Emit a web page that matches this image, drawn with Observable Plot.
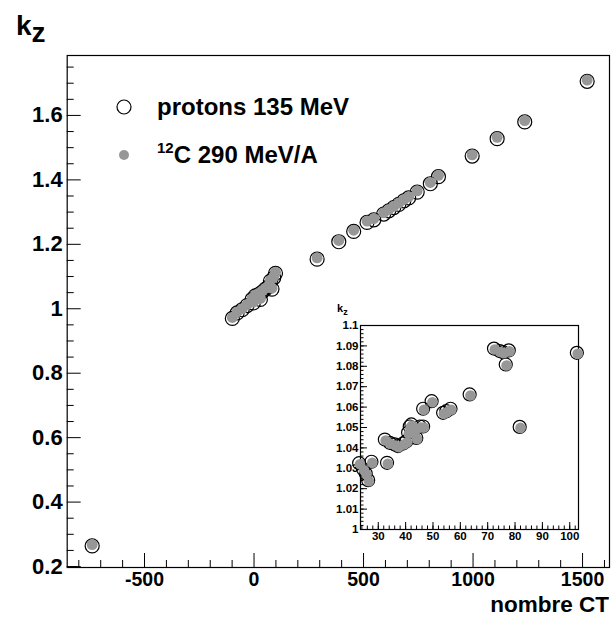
<!DOCTYPE html>
<html><head><meta charset="utf-8">
<script src="https://cdn.jsdelivr.net/npm/d3@7"></script>
<script src="https://cdn.jsdelivr.net/npm/@observablehq/plot@0.6"></script>
<style>
html,body{margin:0;padding:0;background:#fff;}
#wrap{position:relative;width:611px;height:621px;overflow:hidden;}
#wrap svg{position:absolute;overflow:visible;}
</style></head><body><div id="wrap"></div>
<script>
// ---- main plot data (CT number, k_z) ----
const protonCT = [-739, -99, -77, -54, -32, -9, -3, 6, 22, 29, 37, 52, 67, 75, 82, 90, 98, 288, 387, 455, 516, 547, 592, 615, 638, 661, 684, 706, 745, 805, 842, 996, 1110, 1236, 1521];
const protonKz = [0.264, 0.970, 0.987, 0.997, 1.010, 1.029, 1.018, 1.040, 1.045, 1.029, 1.052, 1.061, 1.069, 1.086, 1.061, 1.096, 1.110, 1.154, 1.208, 1.240, 1.268, 1.276, 1.294, 1.304, 1.314, 1.324, 1.335, 1.344, 1.362, 1.388, 1.410, 1.474, 1.528, 1.580, 1.706];
const carbonCT = [-739, -99, -77, -54, -32, -9, -3, 6, 22, 29, 37, 52, 67, 75, 82, 90, 98, 288, 387, 455, 516, 547, 592, 615, 638, 661, 684, 706, 745, 805, 842, 996, 1110, 1236, 1521];
const carbonKz = [0.268, 0.973, 0.990, 1.000, 1.013, 1.032, 1.021, 1.043, 1.048, 1.032, 1.055, 1.064, 1.072, 1.089, 1.064, 1.099, 1.113, 1.158, 1.212, 1.244, 1.272, 1.280, 1.298, 1.308, 1.318, 1.328, 1.339, 1.348, 1.366, 1.392, 1.414, 1.478, 1.532, 1.584, 1.710];

// ---- inset data ----
const insetProtonCT = [23.0, 24.5, 25.4, 26.3, 27.5, 33.2, 32.4, 34.2, 36.0, 37.2, 39.1, 40.3, 40.9, 41.5, 42.1, 43.3, 43.9, 45.2, 46.4, 46.4, 49.5, 53.7, 54.9, 56.4, 63.4, 72.3, 74.4, 75.6, 77.7, 76.6, 81.7, 102.6];
const insetProtonKz = [1.0325, 1.0295, 1.0275, 1.0242, 1.0332, 1.0327, 1.0441, 1.0425, 1.0417, 1.0409, 1.0422, 1.0433, 1.0475, 1.0505, 1.0515, 1.0490, 1.0449, 1.0505, 1.0505, 1.0592, 1.0629, 1.0572, 1.0580, 1.0592, 1.0662, 1.0887, 1.0875, 1.0869, 1.0878, 1.0809, 1.0503, 1.0866];
const insetCarbonCT = [23.3, 24.8, 25.7, 26.6, 27.8, 33.5, 32.7, 34.5, 36.3, 37.5, 39.4, 40.6, 41.2, 41.8, 42.4, 43.6, 44.2, 45.5, 46.7, 46.7, 49.8, 54.0, 55.2, 56.7, 63.7, 72.6, 74.7, 75.9, 78.0, 76.9, 82.0, 102.9];
const insetCarbonKz = [1.0320, 1.0290, 1.0270, 1.0237, 1.0327, 1.0322, 1.0436, 1.0420, 1.0412, 1.0404, 1.0417, 1.0428, 1.0470, 1.0500, 1.0510, 1.0485, 1.0444, 1.0500, 1.0500, 1.0587, 1.0624, 1.0567, 1.0575, 1.0587, 1.0657, 1.0882, 1.0870, 1.0864, 1.0873, 1.0804, 1.0498, 1.0861];

// ---- ticks ----
const xTicks = [-500, 0, 500, 1000, 1500];
const xTickLabels = ["-500", "0", "500", "1000", "1500"];
const xMinor = [-800, -700, -600, -400, -300, -200, -100, 100, 200, 300, 400, 600, 700, 800, 900, 1100, 1200, 1300, 1400, 1600];
const yTicks = [0.2, 0.4, 0.6, 0.8, 1.0, 1.2, 1.4, 1.6];
const yTickLabels = ["0.2", "0.4", "0.6", "0.8", "1", "1.2", "1.4", "1.6"];
const yMinor = [0.25, 0.3, 0.35, 0.45, 0.5, 0.55, 0.65, 0.7, 0.75, 0.85, 0.9, 0.95, 1.05, 1.1, 1.15, 1.25, 1.3, 1.35, 1.45, 1.5, 1.55, 1.65, 1.7, 1.75];
const insetXTicks = [30, 40, 50, 60, 70, 80, 90, 100];
const insetXTickLabels = ["30", "40", "50", "60", "70", "80", "90", "100"];
const insetYTicks = [1.0, 1.01, 1.02, 1.03, 1.04, 1.05, 1.06, 1.07, 1.08, 1.09, 1.1];
const insetYTickLabels = ["1", "1.01", "1.02", "1.03", "1.04", "1.05", "1.06", "1.07", "1.08", "1.09", "1.1"];
const insetXMinor = d3.range(24, 103, 2);
const insetYMinor = d3.range(0, 51).map(i => 1 + i * 0.002);

const seriesNames = ["protons 135 MeV", "290 MeV/A"];

const font = "'Liberation Sans', Arial, Helvetica, sans-serif";
const black = "#000";
const grey = "#979797";

// ---- main chart ----
const W = 611, H = 621, mL = 66.7, mR = 2, mT = 55, mB = 54;
const fw = W - mL - mR, fh = H - mT - mB;
const protons = protonCT.map((x, i) => ({x, y: protonKz[i]}));
const carbon = carbonCT.map((x, i) => ({x, y: carbonKz[i]}));

const main = Plot.plot({
  width: W, height: H,
  marginLeft: mL, marginRight: mR, marginTop: mT, marginBottom: mB,
  style: {fontFamily: font, fontWeight: "bold", background: "transparent", overflow: "visible", color: "#000"},
  x: {domain: [-853, 1623]},
  y: {domain: [0.197, 1.786]},
  marks: [
    Plot.ruleX(xMinor, {x: d => d, insetTop: fh - 7, stroke: black, strokeWidth: 1}),
    Plot.ruleX(xTicks, {x: d => d, insetTop: fh - 14, stroke: black, strokeWidth: 1}),
    Plot.ruleY(yMinor, {y: d => d, insetRight: fw - 7, stroke: black, strokeWidth: 1}),
    Plot.ruleY(yTicks, {y: d => d, insetRight: fw - 14, stroke: black, strokeWidth: 1}),
    Plot.frame({stroke: black, strokeWidth: 1.2}),
    Plot.axisX({ticks: xTicks, tickSize: 0, tickPadding: 5, tickFormat: d => xTickLabels[xTicks.indexOf(d)], fontSize: 19.5, fontWeight: "bold", fill: black, label: null}),
    Plot.axisY({ticks: yTicks, tickSize: 0, tickPadding: 4.5, tickFormat: d => yTickLabels[yTicks.indexOf(d)], fontSize: 22, fontWeight: "bold", fill: black, label: null}),
    Plot.dot(protons, {x: "x", y: "y", r: 7, stroke: black, strokeWidth: 1.2, fill: "none"}),
    Plot.dot(carbon, {x: "x", y: "y", r: 5.5, fill: grey, stroke: "none"})
  ]
});
main.style.left = "0px"; main.style.top = "0px";
document.getElementById("wrap").appendChild(main);

const ms = d3.select(main);
function addText(sel, x, y, size, anchor) {
  return sel.append("text").attr("x", x).attr("y", y).attr("font-size", size)
    .attr("font-weight", "bold").attr("font-family", font).attr("fill", black)
    .attr("text-anchor", anchor).style("text-anchor", anchor);
}
// y title
const kt = addText(ms, 16, 35, 28, "start");
kt.append("tspan").text("k");
kt.append("tspan").attr("dy", 7).text("z");
// x title
addText(ms, 609, 612, 22.5, "end").text("nombre CT");
// legend
ms.append("circle").attr("cx", 124).attr("cy", 107).attr("r", 7).attr("fill", "none").attr("stroke", black).attr("stroke-width", 1.2);
addText(ms, 157, 115, 24, "start").text(seriesNames[0]);
ms.append("circle").attr("cx", 124).attr("cy", 155).attr("r", 5).attr("fill", grey);
const lt = addText(ms, 157, 163, 24, "start");
lt.append("tspan").attr("font-size", 15).attr("dy", -10).text("12");
lt.append("tspan").attr("dy", 10).text("C " + seriesNames[1]);

// ---- inset chart ----
const iW = 256, iH = 236, iL = 30, iR = 8, iT = 18, iB = 14;
const ifw = iW - iL - iR, ifh = iH - iT - iB;
const iprot = insetProtonCT.map((x, i) => ({x, y: insetProtonKz[i]}));
const icarb = insetCarbonCT.map((x, i) => ({x, y: insetCarbonKz[i]}));
const inset = Plot.plot({
  width: iW, height: iH,
  marginLeft: iL, marginRight: iR, marginTop: iT, marginBottom: iB,
  style: {fontFamily: font, fontWeight: "bold", background: "transparent", overflow: "visible", color: "#000"},
  x: {domain: [23.5, 103.2]},
  y: {domain: [1.0, 1.1]},
  marks: [
    Plot.frame({fill: "white", stroke: "none"}),
    Plot.ruleX(insetXMinor, {x: d => d, insetTop: ifh - 3.5, stroke: black, strokeWidth: 1}),
    Plot.ruleX(insetXTicks, {x: d => d, insetTop: ifh - 7, stroke: black, strokeWidth: 1}),
    Plot.ruleY(insetYMinor, {y: d => d, insetRight: ifw - 3.5, stroke: black, strokeWidth: 1}),
    Plot.ruleY(insetYTicks, {y: d => d, insetRight: ifw - 7, stroke: black, strokeWidth: 1}),
    Plot.frame({stroke: black, strokeWidth: 1.2}),
    Plot.axisX({ticks: insetXTicks, tickSize: 0, tickPadding: 2, tickFormat: d => insetXTickLabels[insetXTicks.indexOf(d)], fontSize: 11.5, fontWeight: "bold", fill: black, label: null}),
    Plot.axisY({ticks: insetYTicks, tickSize: 0, tickPadding: 2, tickFormat: d => insetYTickLabels[insetYTicks.indexOf(d)], fontSize: 11.5, fontWeight: "bold", fill: black, label: null}),
    Plot.dot(iprot, {x: "x", y: "y", r: 6.5, stroke: black, strokeWidth: 1.2, fill: "none"}),
    Plot.dot(icarb, {x: "x", y: "y", r: 5.3, fill: grey, stroke: "none"})
  ]
});
inset.style.left = "330px"; inset.style.top = "307px";
document.getElementById("wrap").appendChild(inset);
const is = d3.select(inset);
const ik = addText(is, 7, 5, 11, "start");
ik.append("tspan").text("k");
ik.append("tspan").attr("dy", 3).attr("font-size", 9).text("z");
</script></body></html>
